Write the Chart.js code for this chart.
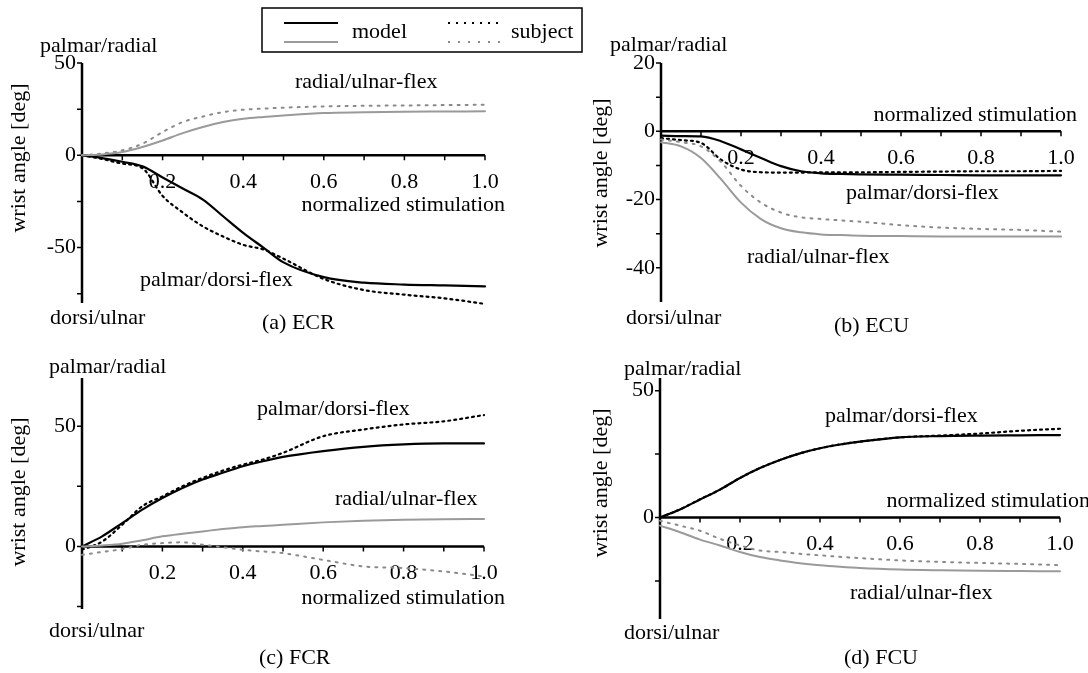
<!DOCTYPE html>
<html>
<head>
<meta charset="utf-8">
<title>wrist angle vs normalized stimulation</title>
<script src="https://cdn.jsdelivr.net/npm/chart.js@4.4.1/dist/chart.umd.min.js"></script>
<style>
  body { margin: 0; background: #fff; }
  #wrap { position: relative; width: 1088px; height: 673px; overflow: hidden; }
  #wrap canvas { position: absolute; left: 0; top: 0; }
</style>
</head>
<body>
<div id="wrap">
  <canvas id="chartA" width="1088" height="673"></canvas>
  <canvas id="chartB" width="1088" height="673"></canvas>
  <canvas id="chartC" width="1088" height="673"></canvas>
  <canvas id="chartD" width="1088" height="673"></canvas>
</div>
<script>
// normalized stimulation (x) shared by all curves
const stim = [0, 0.05, 0.1, 0.15, 0.2, 0.25, 0.3, 0.35, 0.4, 0.45, 0.5, 0.6, 0.7, 0.8, 0.9, 1.0];

// (a) ECR
const ecrModelPD = [0, -1.5, -3.5, -6, -12, -18, -24, -33, -42, -50, -58, -66, -69, -70, -70.5, -71];
const ecrSubjPD  = [0, -2, -4.5, -7, -22, -31, -38.5, -44, -48.5, -51, -56, -67, -73, -75.5, -77.5, -80.5];
const ecrModelRU = [0, 0.5, 1.8, 4.5, 8, 12, 15.3, 18, 19.8, 20.8, 21.6, 22.9, 23.3, 23.6, 23.7, 23.8];
const ecrSubjRU  = [0, 1, 2.7, 6.3, 12.6, 18, 21, 23.4, 24.7, 25.3, 25.8, 26.5, 26.8, 27, 27.2, 27.4];

// (b) ECU
const ecuModelPD = [-1.3, -1.4, -1.5, -2.9, -5.3, -7.8, -10.2, -11.7, -12.3, -12.5, -12.6, -12.7, -12.8, -12.9, -12.9, -12.9];
const ecuSubjPD  = [-2, -2.6, -3.4, -8.3, -11.2, -12, -12.1, -12.1, -12, -12, -12, -11.9, -11.8, -11.7, -11.7, -11.6];
const ecuModelRU = [-3.2, -4.4, -7.8, -14, -20.9, -25.7, -28.4, -29.6, -30.2, -30.4, -30.6, -30.7, -30.8, -30.8, -30.8, -30.8];
const ecuSubjRU  = [-2.4, -3.2, -4.4, -9, -16, -20.9, -23.8, -25.2, -25.7, -26.1, -26.5, -27.5, -28.2, -28.6, -28.9, -29.4];

// (c) FCR
const fcrModelPD = [0, 4.2, 9.7, 15.3, 20.1, 24.3, 27.8, 30.6, 33.3, 35.4, 37.2, 39.6, 41.4, 42.4, 42.8, 42.8];
const fcrSubjPD  = [-1.4, 2, 9, 16.7, 20.8, 25, 28.5, 31.5, 34, 36.1, 38.9, 45.8, 48.6, 50.7, 52, 54.6];
const fcrModelRU = [0, 0.4, 1.1, 2.6, 4.2, 5.3, 6.25, 7.2, 8, 8.5, 9, 10, 10.7, 11.1, 11.3, 11.4];
const fcrSubjRU  = [-3.5, -2.3, -1.1, 0.7, 1.4, 1.7, 0.7, -0.3, -1.4, -2.1, -2.8, -5.6, -8.3, -9, -10.4, -12.5];

// (d) FCU
const fcuModelPD = [0, 3.2, 7.1, 11, 15.6, 19.5, 22.7, 25.3, 27.3, 28.8, 29.9, 31.6, 32.1, 32.3, 32.4, 32.5];
const fcuSubjPD  = [0, 3.2, 7.2, 11, 15.6, 19.5, 22.7, 25.3, 27.3, 28.8, 29.9, 31.6, 32.3, 33.1, 34.2, 35];
const fcuModelRU = [-3.2, -5.8, -8.7, -11, -13.6, -15.6, -16.9, -18, -18.8, -19.4, -19.9, -20.5, -20.8, -21, -21.1, -21.2];
const fcuSubjRU  = [-1.3, -3.2, -5.2, -8.4, -11, -13, -13.6, -14.3, -14.9, -15.5, -16, -16.9, -17.5, -17.9, -18.3, -18.8];

// tick values
const xTicks = [0.1, 0.2, 0.3, 0.4, 0.5, 0.6, 0.7, 0.8, 0.9, 1.0];
const xLabels = [0.2, 0.4, 0.6, 0.8, 1.0];

const FONT = '22px "Liberation Serif", "DejaVu Serif", serif';
const W = 1088, H = 673;

function pts(arr) {
  return stim.map((x, i) => ({ x: x, y: arr[i] }));
}

function series(model, subj, modelRU, subjRU) {
  return [
    { data: pts(modelRU), borderColor: '#9a9a9a', borderWidth: 2 },
    { data: pts(subjRU), borderColor: '#8a8a8a', borderWidth: 2, borderDash: [2, 6] },
    { data: pts(model), borderColor: '#000', borderWidth: 2.2 },
    { data: pts(subj), borderColor: '#000', borderWidth: 2.2, borderDash: [2, 4] }
  ];
}

const wristAxes = {
  id: 'wristAxes',
  beforeDatasetsDraw(chart, args, opts) {
    const ctx = chart.ctx, x = chart.scales.x, y = chart.scales.y;
    const x0 = x.getPixelForValue(0), y0 = y.getPixelForValue(0);
    ctx.save();
    ctx.strokeStyle = '#000';
    ctx.lineWidth = 2.5;
    ctx.beginPath();
    ctx.moveTo(x0, y.getPixelForValue(y.max));
    ctx.lineTo(x0, y.getPixelForValue(y.min));
    ctx.moveTo(x0, y0);
    ctx.lineTo(x.getPixelForValue(1), y0);
    ctx.stroke();

    ctx.lineWidth = 1.5;
    ctx.beginPath();
    opts.yTicks.forEach(v => {
      const py = y.getPixelForValue(v);
      ctx.moveTo(x0 - 5, py);
      ctx.lineTo(x0, py);
    });
    xTicks.forEach(v => {
      const px = x.getPixelForValue(v);
      ctx.moveTo(px, y0);
      ctx.lineTo(px, y0 + 5);
    });
    ctx.stroke();

    ctx.fillStyle = '#000';
    ctx.font = FONT;
    ctx.textBaseline = 'middle';
    ctx.textAlign = 'right';
    opts.yLabels.forEach(v => ctx.fillText(String(v), x0 - 6, y.getPixelForValue(v)));
    ctx.textAlign = 'center';
    xLabels.forEach(v => ctx.fillText(v.toFixed(1), x.getPixelForValue(v), y0 + 27));
    ctx.restore();
  },
  afterDraw(chart, args, opts) {
    const ctx = chart.ctx;
    ctx.save();
    ctx.fillStyle = '#000';
    ctx.font = FONT;
    ctx.textBaseline = 'middle';
    opts.texts.forEach(t => {
      ctx.textAlign = t.align || 'left';
      if (t.rotate) {
        ctx.save();
        ctx.translate(t.x, t.y);
        ctx.rotate(-Math.PI / 2);
        ctx.textAlign = 'center';
        ctx.fillText(t.text, 0, 0);
        ctx.restore();
      } else {
        ctx.fillText(t.text, t.x, t.y);
      }
    });
    if (opts.legend) {
      // legend box
      ctx.strokeStyle = '#000';
      ctx.lineWidth = 1.5;
      ctx.strokeRect(262, 8, 320, 44);
      ctx.beginPath();
      ctx.lineWidth = 2.2;
      ctx.moveTo(284, 23); ctx.lineTo(338, 23);
      ctx.stroke();
      ctx.beginPath();
      ctx.strokeStyle = '#9a9a9a';
      ctx.lineWidth = 2;
      ctx.moveTo(284, 42); ctx.lineTo(338, 42);
      ctx.stroke();
      ctx.beginPath();
      ctx.strokeStyle = '#000';
      ctx.setLineDash([2, 6]);
      ctx.moveTo(448, 23); ctx.lineTo(504, 23);
      ctx.stroke();
      ctx.beginPath();
      ctx.strokeStyle = '#8a8a8a';
      ctx.setLineDash([2, 8]);
      ctx.moveTo(448, 42); ctx.lineTo(504, 42);
      ctx.stroke();
      ctx.setLineDash([]);
      ctx.textAlign = 'left';
      ctx.fillText('model', 352, 32);
      ctx.fillText('subject', 511, 32);
    }
    ctx.restore();
  }
};

function makeChart(id, area, yMin, yMax, datasets, axisOpts) {
  const ctx = document.getElementById(id).getContext('2d');
  return new Chart(ctx, {
    type: 'line',
    data: { datasets: datasets },
    options: {
      responsive: false,
      animation: false,
      events: [],
      layout: { padding: { left: area.left, top: area.top, right: W - area.right, bottom: H - area.bottom } },
      elements: {
        point: { radius: 0 },
        line: { cubicInterpolationMode: 'monotone', fill: false, borderCapStyle: 'round' }
      },
      datasets: { line: { clip: false } },
      scales: {
        x: { type: 'linear', min: 0, max: 1, display: false },
        y: { type: 'linear', min: yMin, max: yMax, display: false }
      },
      plugins: {
        legend: { display: false },
        tooltip: { enabled: false },
        wristAxes: axisOpts
      }
    },
    plugins: [wristAxes]
  });
}

makeChart('chartA', { left: 82, right: 485, top: 63, bottom: 303 }, -80, 50,
  series(ecrModelPD, ecrSubjPD, ecrModelRU, ecrSubjRU), {
    yTicks: [50, 25, 0, -25, -50, -75],
    yLabels: [50, 0, -50],
    legend: true,
    texts: [
      { text: 'palmar/radial', x: 40, y: 46 },
      { text: 'dorsi/ulnar', x: 50, y: 318 },
      { text: '(a) ECR', x: 262, y: 323 },
      { text: 'wrist angle [deg]', x: 19, y: 158, rotate: true },
      { text: 'radial/ulnar-flex', x: 295, y: 82 },
      { text: 'palmar/dorsi-flex', x: 140, y: 280 },
      { text: 'normalized stimulation', x: 505, y: 205, align: 'right' }
    ]
  });

makeChart('chartB', { left: 661, right: 1061, top: 63, bottom: 302 }, -50, 20,
  series(ecuModelPD, ecuSubjPD, ecuModelRU, ecuSubjRU), {
    yTicks: [20, 10, 0, -10, -20, -30, -40],
    yLabels: [20, 0, -20, -40],
    texts: [
      { text: 'palmar/radial', x: 610, y: 45 },
      { text: 'dorsi/ulnar', x: 626, y: 318 },
      { text: '(b) ECU', x: 834, y: 326 },
      { text: 'wrist angle [deg]', x: 601, y: 173, rotate: true },
      { text: 'palmar/dorsi-flex', x: 846, y: 193 },
      { text: 'radial/ulnar-flex', x: 747, y: 257 },
      { text: 'normalized stimulation', x: 1077, y: 115, align: 'right' }
    ]
  });

makeChart('chartC', { left: 82, right: 484, top: 378, bottom: 609 }, -26, 70,
  series(fcrModelPD, fcrSubjPD, fcrModelRU, fcrSubjRU), {
    yTicks: [50, 25, 0, -25],
    yLabels: [50, 0],
    texts: [
      { text: 'palmar/radial', x: 49, y: 367 },
      { text: 'dorsi/ulnar', x: 49, y: 631 },
      { text: '(c) FCR', x: 259, y: 658 },
      { text: 'wrist angle [deg]', x: 19, y: 492, rotate: true },
      { text: 'palmar/dorsi-flex', x: 257, y: 409 },
      { text: 'radial/ulnar-flex', x: 335, y: 499 },
      { text: 'normalized stimulation', x: 505, y: 598, align: 'right' }
    ]
  });

makeChart('chartD', { left: 660, right: 1060, top: 378, bottom: 619 }, -40, 55,
  series(fcuModelPD, fcuSubjPD, fcuModelRU, fcuSubjRU), {
    yTicks: [50, 25, 0, -25],
    yLabels: [50, 0],
    texts: [
      { text: 'palmar/radial', x: 624, y: 369 },
      { text: 'dorsi/ulnar', x: 624, y: 633 },
      { text: '(d) FCU', x: 844, y: 658 },
      { text: 'wrist angle [deg]', x: 601, y: 483, rotate: true },
      { text: 'palmar/dorsi-flex', x: 825, y: 416 },
      { text: 'radial/ulnar-flex', x: 850, y: 593 },
      { text: 'normalized stimulation', x: 1090, y: 501, align: 'right' }
    ]
  });
</script>
</body>
</html>
